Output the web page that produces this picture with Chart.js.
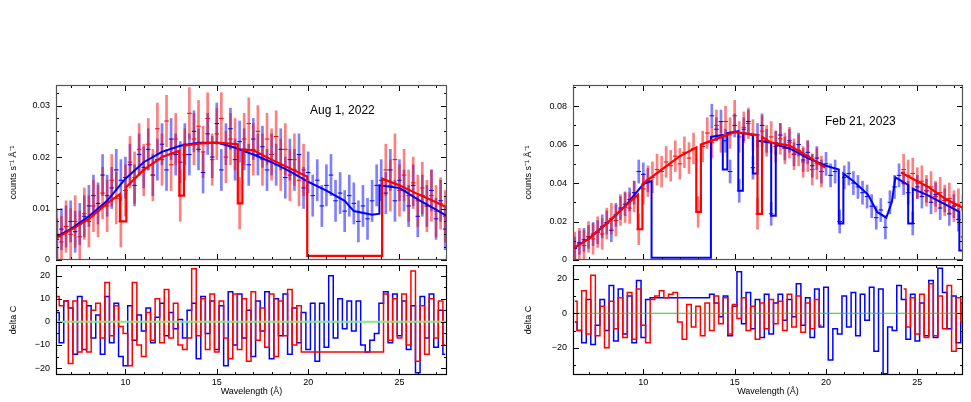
<!DOCTYPE html>
<html>
<head>
<meta charset="utf-8">
<script src="https://cdn.jsdelivr.net/npm/chart.js@4.4.0/dist/chart.umd.min.js"></script>
<style>
  body { margin: 0; background: #fff; width: 971px; height: 402px; overflow: hidden; position: relative; }
  .box { position: absolute; }
  .date { position: absolute; font-family: "Liberation Sans", Arial, sans-serif; font-size: 12px; color: #000; }
</style>
</head>
<body>
<div class="box" style="left:0;top:80px"><canvas id="leftTop" width="460" height="185"></canvas></div>
<div class="box" style="left:0;top:265px"><canvas id="leftBottom" width="460" height="137"></canvas></div>
<div class="box" style="left:517px;top:80px"><canvas id="rightTop" width="454" height="185"></canvas></div>
<div class="box" style="left:517px;top:265px"><canvas id="rightBottom" width="454" height="137"></canvas></div>
<div class="date" style="left:310px;top:103px">Aug 1, 2022</div>
<div class="date" style="left:825px;top:114px">Feb 21, 2023</div>
<script>
// wavelength bins (Å), 0.25 Å wide
function bins(from, to) {
    const out = [];
    for (let i = 0; from + i * 0.25 <= to + 1e-9; i++) out.push(+(from + i * 0.25).toFixed(2));
    return out;
}

// ---- Aug 1, 2022 ----
const leftBlueWave = bins(6.25, 27.5);
const leftBlueFlux = [
    0.004, 0.006, 0.0065, 0.0075, 0.0055, 0.007, 0.0085, 0.0105, 0.0125, 0.011,
    0.0165, 0.0125, 0.014, 0.0175, 0.0155, 0.016, 0.0185, 0.0145, 0.0205, 0.018,
    0.0215, 0.0165, 0.0195, 0.0225, 0.0175, 0.0235, 0.0205, 0.019, 0.0225, 0.0205,
    0.025, 0.0215, 0.017, 0.0245, 0.02, 0.0265, 0.0175, 0.0225, 0.0255, 0.0195,
    0.023, 0.0215, 0.0185, 0.0235, 0.0205, 0.022, 0.0175, 0.0205, 0.0185, 0.0215,
    0.016, 0.0195, 0.0175, 0.0205, 0.014, 0.017, 0.0125, 0.0155, 0.0105, 0.0145,
    0.0165, 0.0115, 0.013, 0.0095, 0.0125, 0.011, 0.0075, 0.0105, 0.008, 0.0115,
    0.0145, 0.0155, 0.013, 0.0175, 0.0115, 0.0155, 0.0135, 0.0105, 0.0145, 0.0085,
    0.0125, 0.0105, 0.0135, 0.008, 0.0115, 0.006
];
const leftRedWave = bins(6.25, 19.75).concat(bins(24.25, 27.5));
const leftRedFlux = [
    0.005, 0.0035, 0.0065, 0.005, 0.0075, 0.0045, 0.009, 0.0075, 0.0105, 0.0095,
    0.013, 0.0105, 0.0155, 0.012, 0.0075, 0.0135, 0.019, 0.016, 0.0215, 0.0175,
    0.0225, 0.0165, 0.0255, 0.0195, 0.027, 0.0185, 0.0235, 0.0125, 0.0205, 0.0285,
    0.0235, 0.026, 0.021, 0.0275, 0.0195, 0.0245, 0.0275, 0.02, 0.0235, 0.0225,
    0.011, 0.0235, 0.0265, 0.0215, 0.025, 0.0195, 0.0235, 0.0205, 0.024, 0.0185,
    0.0215, 0.0165, 0.0195, 0.0155, 0.0175,
    0.0175, 0.0145, 0.0195, 0.0135, 0.0165, 0.0125, 0.015, 0.0115, 0.014, 0.0105,
    0.0125, 0.0095, 0.011, 0.0085
];
const leftBlueErr = 0.004;
const leftRedErr = 0.005;
const leftRedModelWave = [6.2, 7, 8, 9, 9.7, 9.7, 10.05, 10.05, 11, 12, 12.95, 12.95, 13.2, 13.2, 14, 15,
    16.15, 16.15, 16.4, 16.4, 17, 18, 19, 19.95, 19.95, 24.05, 24.05, 25, 26, 27, 27.6];
const leftRedModelFlux = [0.0042, 0.0058, 0.008, 0.011, 0.0128, 0.0075, 0.0075, 0.0142, 0.0175, 0.02, 0.0212,
    0.0125, 0.0125, 0.0222, 0.0226, 0.0228, 0.0225, 0.011, 0.011, 0.0215, 0.0213, 0.0195, 0.0178, 0.0162,
    0.0008, 0.0008, 0.0158, 0.0145, 0.0128, 0.0112, 0.0102];
const leftBlueModelWave = [6.2, 7, 8, 9, 10, 11, 12, 13, 14, 15, 16, 17, 18, 19, 20, 21, 22, 22.5, 23.5,
    23.9, 23.9, 25, 26, 27, 27.6];
const leftBlueModelFlux = [0.0045, 0.006, 0.0085, 0.0115, 0.0158, 0.019, 0.021, 0.0222, 0.0228, 0.0228,
    0.0218, 0.0205, 0.019, 0.0172, 0.0152, 0.0135, 0.0115, 0.0095, 0.0088, 0.009, 0.0145, 0.014, 0.0118,
    0.0098, 0.0085];
const leftResidWave = bins(6.25, 27.5);
const leftBlueResid = [
    4, -9, 9, 6, -14, 11, -12, 7, -7, 3,
    -14, 11, -9, 8, -15, -19, 7, -8, 3, -4,
    6, -9, 2, 8, -6, 4, -3, 1, -7, 5,
    8, -16, 11, -5, 9, -12, 7, -19, 13, -10,
    12, -7, 5, -15, 9, -4, 13, -16, 10, -6,
    12, -14, 6, -9, 4, -12, 8, -17, 8, -11,
    20, -7, 10, -3, 9, -4, 9, -10, -13, -8,
    -5, 8, 13, -9, 12, -6, 9, -12, 7, -22,
    11, -7, 12, -11, 5, -14
];
const leftRedResid = [
    11, 7, 9, -18, 9, -13, 9, -13, 5, 8,
    -7, 17, -6, 7, -2, -5, -19, 17, -10, -15,
    4, -8, 10, -9, 14, -7, 8, -10, -12, -7,
    23, -6, 10, -12, 12, -13, 9, -7, -16, 12,
    -12, 10, -17, 13, -8, 6, -11, 12, -15, 9,
    -6, 14, -10, 7, -13, -13, -13, -13, -13, -13,
    -13, -13, -13, -13, -13, -13, -13, -13, -13, -13,
    -13, -13, 12, -8, 10, -7, 12, -10, 22, -17,
    7, -14, 10, -7, 9, -10
];

// ---- Feb 21, 2023 ----
const rightBlueWave = bins(6.25, 10.25).concat(bins(13.75, 27.5));
const rightBlueFlux = [
    0.006, 0.009, 0.0105, 0.012, 0.0135, 0.0145, 0.0175, 0.0195, 0.0155, 0.0235,
    0.027, 0.029, 0.0315, 0.035, 0.046, 0.0445, 0.0415,
    0.075, 0.068, 0.072, 0.062, 0.046, 0.07, 0.036, 0.068, 0.072, 0.048,
    0.065, 0.07, 0.062, 0.024, 0.061, 0.065, 0.058, 0.062, 0.055, 0.06,
    0.052, 0.056, 0.049, 0.053, 0.046, 0.05, 0.044, 0.046, 0.02, 0.043,
    0.045, 0.04, 0.038, 0.035, 0.033, 0.028, 0.022, 0.026, 0.017, 0.03,
    0.038, 0.044, 0.04, 0.035, 0.019, 0.038, 0.033, 0.036, 0.03, 0.034,
    0.027, 0.031, 0.024, 0.028, 0.021, 0.012
];
const rightRedWave = bins(6.25, 19.75).concat(bins(24.25, 27.5));
const rightRedFlux = [
    0.0065, 0.0085, 0.0075, 0.012, 0.011, 0.0145, 0.0135, 0.019, 0.0215, 0.0205,
    0.026, 0.0275, 0.027, 0.033, 0.016, 0.037, 0.041, 0.043, 0.047, 0.046,
    0.051, 0.049, 0.054, 0.05, 0.056, 0.053, 0.058, 0.025, 0.059, 0.066,
    0.061, 0.07, 0.064, 0.072, 0.066, 0.075, 0.064, 0.069, 0.071, 0.065,
    0.024, 0.067, 0.062, 0.064, 0.059, 0.063, 0.058, 0.061, 0.055, 0.057,
    0.051, 0.054, 0.047, 0.05, 0.046,
    0.047, 0.044, 0.045, 0.04, 0.041, 0.036, 0.038, 0.033, 0.035, 0.031,
    0.032, 0.028, 0.029, 0.026
];
const rightBlueErr = 0.006;
const rightRedErr = 0.008;
const rightRedModelWave = [6.15, 7, 8, 9, 9.7, 9.7, 9.95, 9.95, 11, 12, 12.9, 12.9, 13.15, 13.15, 14, 15,
    16.25, 16.25, 16.5, 16.5, 17, 18, 19, 19.95, 22, 24.1, 25, 25.6, 26.5, 27.5];
const rightRedModelFlux = [0.006, 0.011, 0.019, 0.028, 0.034, 0.016, 0.016, 0.0395, 0.047, 0.054, 0.0585,
    0.025, 0.025, 0.06, 0.063, 0.0665, 0.065, 0.024, 0.024, 0.064, 0.061, 0.0595, 0.054, 0.048, null,
    0.0455, 0.041, 0.038, 0.032, 0.027];
const rightBlueModelWave = [6.15, 7, 8, 9, 10, 10.45, 10.45, 13.7, 13.7, 14.35, 14.35, 14.6, 14.6, 15.2,
    15.2, 15.45, 15.45, 16.0, 16.0, 16.25, 16.25, 17.0, 17.0, 17.25, 17.25, 18, 19, 20, 20.7, 20.7, 20.95,
    20.95, 21.5, 22.3, 22.8, 23.3, 23.6, 23.8, 24.5, 24.5, 24.75, 24.75, 25.5, 26.5, 27.3, 27.3, 27.5];
const rightBlueModelFlux = [0.006, 0.011, 0.019, 0.028, 0.0395, 0.041, 0.0012, 0.0012, 0.064, 0.065,
    0.047, 0.047, 0.066, 0.067, 0.036, 0.036, 0.066, 0.065, 0.045, 0.045, 0.062, 0.061, 0.023, 0.023,
    0.06, 0.058, 0.053, 0.049, 0.047, 0.019, 0.019, 0.045, 0.041, 0.034, 0.025, 0.022, 0.03, 0.043,
    0.039, 0.019, 0.019, 0.037, 0.034, 0.029, 0.025, 0.005, 0.005];
const rightResidWave = bins(6.25, 27.5);
const rightBlueResid = [
    -5, -10, -17, 8, -18, -7, 8, -10, 16, -16,
    14, -12, 10, -17, 19, -14, 8, 9, 9, 9,
    9, 9, 9, 9, 9, 9, 9, 9, 9, 9,
    11, 6, -2, 10, -13, 4, 24, -6, 12, -9,
    8, -14, 11, -12, 6, 11, -4, 8, -2, 17,
    -7, 9, -14, 14, -8, 15, -27, -9, -12, 10,
    -8, 12, -13, 11, -4, 15, -22, 14, -35, -8,
    -10, 16, 8, -15, 11, -16, 6, -13, 19, -14,
    26, 12, -9, 10, -17, 6
];
const rightRedResid = [
    7, -10, 13, -12, 22, -13, 4, -20, 7, -9,
    9, -14, 12, -15, 14, -7, -17, 8, 10, 13,
    9, 11, 12, -5, -15, 5, -8, 4, -13, 6,
    -10, 10, -6, 9, -12, 5, -3, 9, -10, 4,
    -15, 6, -9, 8, -6, 7, -10, 11, -8, 10,
    -11, 6, -9, 8, -7, null, null, null, null, null,
    null, null, null, null, null, null, null, null, null, null,
    null, null, 14, -8, 9, -12, 11, -14, 17, -13,
    10, -9, 16, -22, 9, -5
];

// axis tick labels
const waveTicks = [10, 15, 20, 25];
const leftFluxTicks = [0, 0.01, 0.02, 0.03];
const rightFluxTicks = [0, 0.02, 0.04, 0.06, 0.08];
const leftResidTicks = [-20, -10, 0, 10, 20];
const rightResidTicks = [-20, 0, 20];

const FONT = { family: "'Liberation Sans', Arial, sans-serif", size: 9 };
const RED = '#ff0000', BLUE = '#0000ff';

function pts(xs, ys) { return xs.map((x, i) => ({ x: x, y: ys[i] })); }
function errBars(xs, ys, err) { return xs.map((x, i) => ({ x: x, y: [ys[i] - err, ys[i] + err] })); }
function fmt(v) { return v < 0 ? '\u2212' + Math.abs(v) : String(v); }

// box frame with inward ticks on all four sides
const frameTicks = {
    id: 'frameTicks',
    afterDatasetsDraw(chart, args, o) {
        const { ctx, chartArea: a, scales: { x, y } } = chart;
        ctx.save();
        ctx.strokeStyle = '#000';
        ctx.lineWidth = 1;
        ctx.beginPath();
        for (let v = Math.ceil(x.min); v <= x.max; v++) {
            const px = Math.round(x.getPixelForValue(v)) + 0.5;
            const len = v % 5 === 0 ? 6 : 3;
            ctx.moveTo(px, a.bottom); ctx.lineTo(px, a.bottom - len);
            ctx.moveTo(px, a.top); ctx.lineTo(px, a.top + len);
        }
        for (let i = Math.ceil(y.min / o.minor - 1e-6); i * o.minor <= y.max + 1e-9; i++) {
            const v = i * o.minor;
            const py = Math.round(y.getPixelForValue(v)) + 0.5;
            const r = v / o.major;
            const len = Math.abs(r - Math.round(r)) < 1e-6 ? 6 : 3;
            ctx.moveTo(a.left, py); ctx.lineTo(a.left + len, py);
            ctx.moveTo(a.right, py); ctx.lineTo(a.right - len, py);
        }
        ctx.stroke();
        ctx.lineWidth = 1.2;
        ctx.strokeStyle = o.top ? '#555' : '#000';
        ctx.strokeRect(a.left + 0.5, a.top + 0.5, a.width - 1, a.height - 1);
        ctx.restore();
    }
};

function yAxis(min, max, ticks, title, titlePad) {
    return {
        min: min, max: max,
        grid: { display: false, drawTicks: false }, border: { display: false },
        afterFit(s) { s.width = 56; s.paddingTop = 0; s.paddingBottom = 0; },
        afterBuildTicks(s) { s.ticks = ticks.map(v => ({ value: v })); },
        ticks: { font: FONT, color: '#000', padding: 6, callback: v => fmt(v) },
        title: { display: true, text: title, font: FONT, color: '#000', padding: { top: titlePad, bottom: 0 } }
    };
}

function spectrum(id, c) {
    new Chart(document.getElementById(id), {
        type: 'bar',
        data: {
            datasets: [
                { type: 'line', data: pts(c.redModelWave, c.redModelFlux), borderColor: RED, borderWidth: 2.2,
                  pointRadius: 0, spanGaps: false, order: 0 },
                { type: 'line', data: pts(c.blueModelWave, c.blueModelFlux), borderColor: BLUE, borderWidth: 2,
                  pointRadius: 0, order: 0 },
                { type: 'line', data: pts(c.redWave, c.redFlux), showLine: false, pointStyle: 'line',
                  pointRadius: 2.3, borderColor: RED, borderWidth: 1, order: 1 },
                { type: 'line', data: pts(c.blueWave, c.blueFlux), showLine: false, pointStyle: 'line',
                  pointRadius: 2.3, borderColor: BLUE, borderWidth: 1, order: 1 },
                { data: errBars(c.redWave, c.redFlux, c.redErr), backgroundColor: 'rgba(255,0,0,0.5)',
                  barThickness: 2, grouped: false, order: 2 },
                { data: errBars(c.blueWave, c.blueFlux, c.blueErr), backgroundColor: 'rgba(0,0,255,0.5)',
                  barThickness: 2, grouped: false, order: 2 }
            ]
        },
        options: {
            responsive: false, animation: false, events: [],
            layout: { padding: { top: 5, right: c.padRight, bottom: 0, left: 0 } },
            plugins: { legend: { display: false }, tooltip: { enabled: false },
                       frameTicks: { minor: c.minor, major: c.major, top: true } },
            scales: {
                x: { type: 'linear', min: c.xMin, max: c.xMax, offset: false, display: false },
                y: yAxis(0, c.yMax, c.ticks, 'counts s\u207B\u00B9 \u00C5\u207B\u00B9', c.titlePad)
            }
        },
        plugins: [frameTicks]
    });
}

function residuals(id, c) {
    new Chart(document.getElementById(id), {
        type: 'line',
        data: {
            datasets: [
                { data: pts([c.xMin, c.xMax], [0, 0]), borderColor: c.zeroColor, borderWidth: c.zeroWidth,
                  pointRadius: 0, order: 0 },
                { data: pts(c.wave, c.redResid), borderColor: RED, borderWidth: 1.5, stepped: 'middle',
                  pointRadius: 0, spanGaps: false, order: 1 },
                { data: pts(c.wave, c.blueResid), borderColor: BLUE, borderWidth: 1.5, stepped: 'middle',
                  pointRadius: 0, order: 2 }
            ]
        },
        options: {
            responsive: false, animation: false, events: [],
            layout: { padding: { top: 0, right: c.padRight, bottom: 0, left: 0 } },
            plugins: { legend: { display: false }, tooltip: { enabled: false },
                       frameTicks: { minor: c.minor, major: c.major } },
            scales: {
                x: {
                    type: 'linear', min: c.xMin, max: c.xMax, offset: false,
                    grid: { display: false, drawTicks: false }, border: { display: false },
                    afterFit(s) { s.height = 27; s.paddingLeft = 0; s.paddingRight = 0; },
                    afterBuildTicks(s) { s.ticks = waveTicks.map(v => ({ value: v })); },
                    ticks: { font: FONT, color: '#000', padding: 2, maxRotation: 0 },
                    title: { display: true, text: 'Wavelength (\u00C5)', font: FONT, color: '#000',
                             padding: { top: 0, bottom: 5 } }
                },
                y: yAxis(c.yMin, c.yMax, c.ticks, 'delta C', c.titlePad)
            }
        },
        plugins: [frameTicks]
    });
}

spectrum('leftTop', {
    redWave: leftRedWave, redFlux: leftRedFlux, redErr: leftRedErr,
    blueWave: leftBlueWave, blueFlux: leftBlueFlux, blueErr: leftBlueErr,
    redModelWave: leftRedModelWave, redModelFlux: leftRedModelFlux,
    blueModelWave: leftBlueModelWave, blueModelFlux: leftBlueModelFlux,
    xMin: 6.2, xMax: 27.6, yMax: 0.034, ticks: leftFluxTicks, minor: 0.0025, major: 0.01,
    padRight: 13, titlePad: 8
});
residuals('leftBottom', {
    wave: leftResidWave, redResid: leftRedResid, blueResid: leftBlueResid,
    xMin: 6.2, xMax: 27.6, yMin: -23, yMax: 24.6, ticks: leftResidTicks, minor: 5, major: 10,
    zeroColor: '#86e886', zeroWidth: 2, padRight: 13, titlePad: 8
});
spectrum('rightTop', {
    redWave: rightRedWave, redFlux: rightRedFlux, redErr: rightRedErr,
    blueWave: rightBlueWave, blueFlux: rightBlueFlux, blueErr: rightBlueErr,
    redModelWave: rightRedModelWave, redModelFlux: rightRedModelFlux,
    blueModelWave: rightBlueModelWave, blueModelFlux: rightBlueModelFlux,
    xMin: 6.15, xMax: 27.5, yMax: 0.091, ticks: rightFluxTicks, minor: 0.01, major: 0.02,
    padRight: 8, titlePad: 6
});
residuals('rightBottom', {
    wave: rightResidWave, redResid: rightRedResid, blueResid: rightBlueResid,
    xMin: 6.15, xMax: 27.5, yMin: -35.7, yMax: 27.9, ticks: rightResidTicks, minor: 10, major: 20,
    zeroColor: '#22cc22', zeroWidth: 1.2, padRight: 8, titlePad: 6
});
</script>
</body>
</html>
